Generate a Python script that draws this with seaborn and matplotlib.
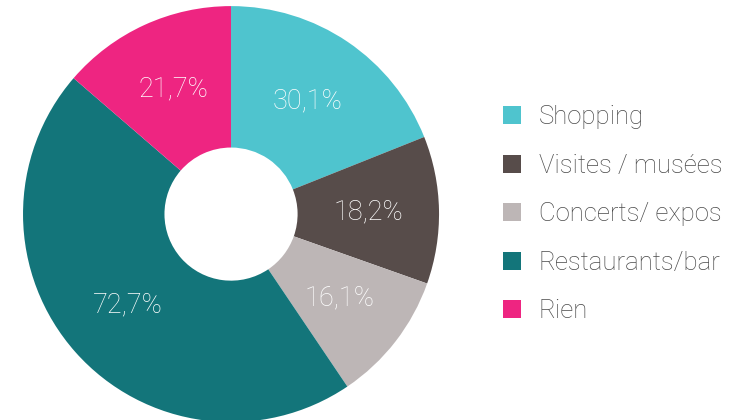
import matplotlib.pyplot as plt
import seaborn as sns
from matplotlib.patches import Patch

categories = ['Shopping', 'Visites / musées', 'Concerts/ expos', 'Restaurants/bar', 'Rien']
values = [30.1, 18.2, 16.1, 72.7, 21.7]
colors = ['#4FC4CE', '#574C4A', '#BDB6B6', '#13757A', '#EE2581']

sns.set_theme(style="white")
plt.rcParams['font.family'] = ['Roboto', 'DejaVu Sans']

fig = plt.figure(figsize=(7.38, 4.2), dpi=100)
ax = fig.add_axes([0.0312, -0.005, 0.5637, 0.9905])

total = sum(values)
wedges, texts, autotexts = ax.pie(
    values, colors=colors, startangle=90, counterclock=False,
    radius=1, pctdistance=0.66,
    autopct=lambda p: f'{p * total / 100:.1f}%'.replace('.', ','),
    wedgeprops=dict(width=0.68, linewidth=0),
    textprops=dict(color='white', fontsize=19.5, fontweight='light'),
)
ax.set_xlim(-1, 1)
ax.set_ylim(-1, 1)
ax.set_aspect('equal')

handles = [Patch(facecolor=c, edgecolor='none') for c in colors]
leg = fig.legend(handles, categories, loc='center left', bbox_to_anchor=(0.65, 0.49),
                 frameon=False, prop=dict(size=18.5, weight='light'), labelcolor='#4a4a4a',
                 handlelength=0.7, handleheight=0.7, handletextpad=0.7,
                 labelspacing=0.95)

fig.savefig('out.png', dpi=100)
